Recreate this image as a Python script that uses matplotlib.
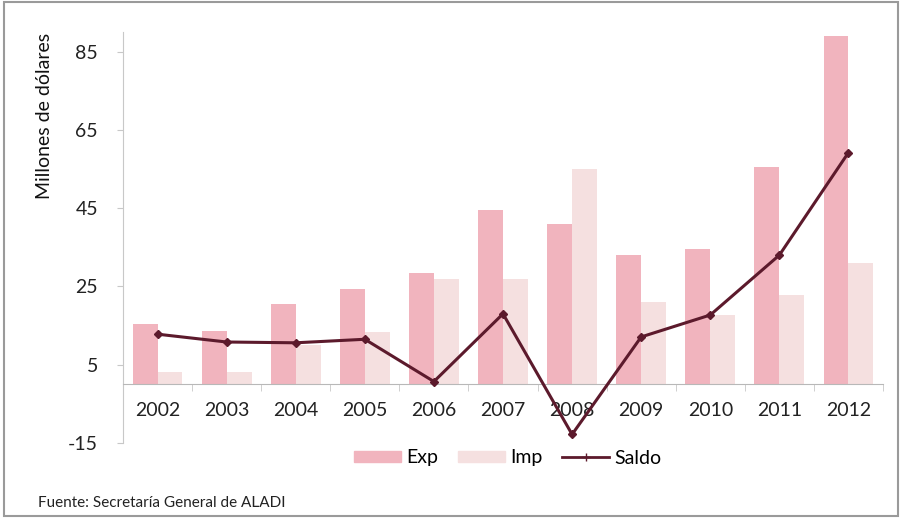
import matplotlib
matplotlib.use("Agg")
import matplotlib.pyplot as plt
import numpy as np
from matplotlib.lines import Line2D
from matplotlib.patches import Patch, Rectangle

years = ["2002", "2003", "2004", "2005", "2006", "2007", "2008", "2009", "2010", "2011", "2012"]
exp_vals = [15.5, 13.6, 20.6, 24.4, 28.4, 44.4, 40.9, 33.0, 34.6, 55.4, 89.0]
imp_vals = [3.2, 3.2, 10.0, 13.3, 27.0, 27.0, 55.0, 21.0, 17.7, 22.8, 31.0]
saldo_vals = [12.8, 10.8, 10.6, 11.5, 0.7, 18.0, -12.8, 12.1, 17.7, 33.0, 59.2]
y_ticks = [-15, 5, 25, 45, 65, 85]

plt.rcParams['font.family'] = ['Lato', 'DejaVu Sans']

fig = plt.figure(figsize=(9.02, 5.18), dpi=100)
ax = fig.add_axes([123/902, 1-443/518, (883-123)/902, (443-32)/518])

x = np.arange(len(years))
w = 0.36
exp_color = '#f1b4be'
imp_color = '#f5e0e0'
saldo_color = '#5c1a2c'

ax.bar(x - w/2, exp_vals, width=w, color=exp_color, zorder=2)
ax.bar(x + w/2, imp_vals, width=w, color=imp_color, zorder=2)
ax.plot(x, saldo_vals, color=saldo_color, lw=2.2, marker='D', ms=4, zorder=4)

ax.set_xlim(-0.5, len(years) - 0.5)
ax.set_ylim(-15, 90)
ax.set_yticks(y_ticks)
ax.set_yticklabels([str(v) for v in y_ticks], fontsize=14, color='#222222')

ax.spines['top'].set_visible(False)
ax.spines['right'].set_visible(False)
ax.spines['left'].set_color('#c8c8c8')
ax.spines['bottom'].set_position(('data', 0))
ax.spines['bottom'].set_color('#b8b8b8')
ax.spines['bottom'].set_zorder(3)

ax.set_xticks(x)
ax.set_xticklabels(years, fontsize=14, color='#222222')
ax.tick_params(axis='x', length=0, pad=13)
ax.set_xticks(np.arange(-0.5, len(years), 1), minor=True)
ax.tick_params(axis='x', which='minor', length=5, color='#c8c8c8', direction='out')
ax.tick_params(axis='y', length=4, color='#c8c8c8', pad=14)

ax.set_ylabel("Millones de dólares", fontsize=14, color='#111111')
ax.yaxis.set_label_coords(-0.092, 0.795)

handles = [Patch(color=exp_color), Patch(color=imp_color),
           Line2D([0], [0], color=saldo_color, lw=2, marker='+', ms=6)]
fig.legend(handles, ["Exp", "Imp", "Saldo"], loc='center', bbox_to_anchor=(508/902, 1-458/518),
           ncol=3, frameon=False, fontsize=14, handlelength=2.4, handleheight=0.45,
           columnspacing=1.0, handletextpad=0.3)

fig.text(38/902, 1-503/518, "Fuente: Secretaría General de ALADI", fontsize=11, va='center', color='#222222')

fig.patches.append(Rectangle((0.004, 0.004), 0.992, 0.992, transform=fig.transFigure,
                             fill=False, edgecolor='#9a9a9a', lw=1.5))

fig.savefig("out.png", dpi=100)
